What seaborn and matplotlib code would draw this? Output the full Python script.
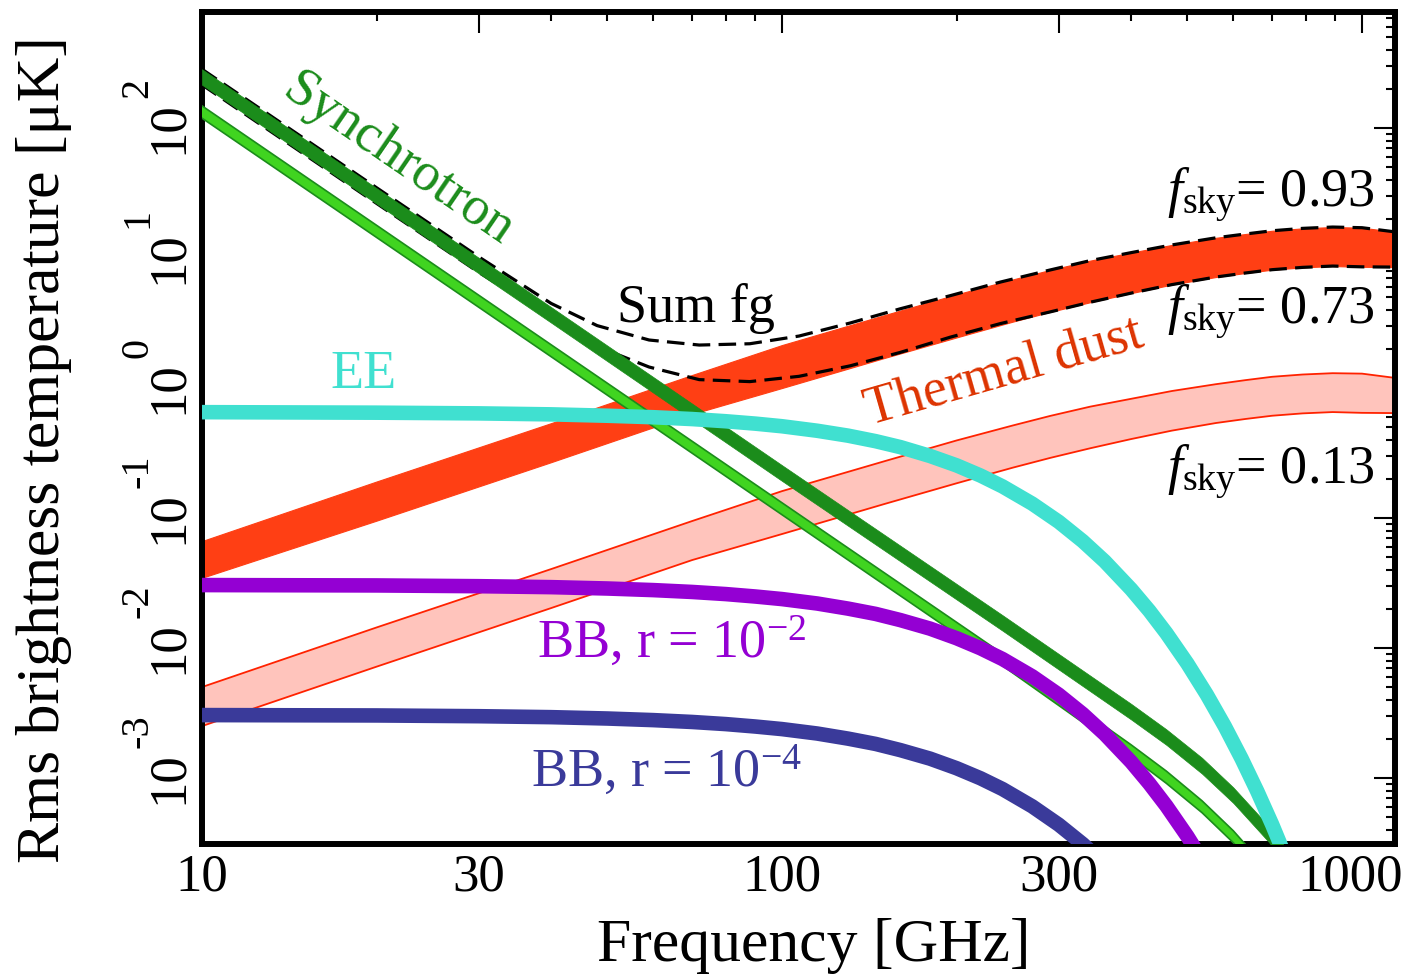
import numpy as np
import pandas as pd
import matplotlib
matplotlib.use("Agg")
import matplotlib.pyplot as plt
import seaborn as sns
from matplotlib.transforms import ScaledTranslation, blended_transform_factory

# ---------------- data (in micro-K) ----------------
sync_freq = [10, 40, 100, 240, 400, 460, 530, 600, 690, 800]
sync_hi_upper = [283, 4.19, 0.255, 0.0179, 0.00372, 0.00237, 0.00143, 0.000847, 0.000428, 0.000187]
sync_hi_lower = [215, 3.18, 0.193, 0.0136, 0.00282, 0.00180, 0.00108, 0.000643, 0.000324, 0.000142]
sync_lo_upper = [148, 2.15, 0.131, 0.00904, 0.00180, 0.00113, 0.000668, 0.000393, 0.000195, 0.0000845]
sync_lo_lower = [119, 1.74, 0.106, 0.00731, 0.00146, 0.000910, 0.000541, 0.000318, 0.000158, 0.0000684]

dust_freq = [10, 20, 40, 70, 100, 150, 200, 250, 290, 340, 400, 470, 560, 630, 700, 790, 890, 1000, 1150]
dust_upper = [0.0665, 0.191, 0.537, 1.26, 2.14, 3.63, 5.25, 6.84, 8.09, 9.55, 11.0, 12.6, 14.3, 15.3, 16.2, 16.9, 17.3, 17.1, 15.8]
dust_lower = [0.0347, 0.0955, 0.269, 0.631, 1.00, 1.70, 2.45, 3.24, 3.85, 4.57, 5.37, 6.24, 7.14, 7.67, 8.13, 8.47, 8.67, 8.55, 8.51]
dust13_upper = [0.00501, 0.0144, 0.0405, 0.0948, 0.161, 0.273, 0.395, 0.515, 0.610, 0.719, 0.826, 0.948, 1.07, 1.15, 1.22, 1.27, 1.30, 1.29, 1.19]
dust13_lower = [0.00251, 0.00719, 0.0203, 0.0475, 0.0753, 0.128, 0.185, 0.244, 0.290, 0.344, 0.405, 0.470, 0.538, 0.578, 0.612, 0.638, 0.653, 0.644, 0.641]

sum_freq = [10, 20, 30, 40, 48, 59, 72, 88, 107, 131, 160, 195, 238, 290, 340, 400, 470, 560, 630, 700, 790, 890, 1000, 1150]
sum_fg_093 = [283, 34.7, 10.2, 4.47, 3.02, 2.34, 2.14, 2.19, 2.51, 3.16, 4.07, 5.13, 6.53, 8.09,
              9.55, 11.0, 12.6, 14.3, 15.3, 16.2, 16.9, 17.3, 17.1, 15.8]
sum_fg_073 = [215, 26.3, 7.76, 3.47, 2.09, 1.45, 1.16, 1.12, 1.23, 1.48, 1.88, 2.46, 3.13, 3.85,
              4.57, 5.37, 6.24, 7.14, 7.67, 8.13, 8.47, 8.67, 8.55, 8.51]

cmb_freq = [10, 20, 30, 40, 50, 60, 70, 80, 90, 100, 115, 130, 145, 160, 180, 200, 220, 240, 270, 300,
            330, 360, 400, 430, 460, 500, 540, 580, 620, 660, 700, 750, 800]
ee = [0.652, 0.646, 0.638, 0.627, 0.612, 0.596, 0.577, 0.555, 0.532, 0.508, 0.469, 0.430, 0.390, 0.351,
      0.300, 0.254, 0.212, 0.175, 0.129, 0.0935, 0.0664, 0.0465, 0.0283, 0.0193, 0.0130, 0.00759,
      0.00438, 0.00250, 0.00141, 0.000789, 0.000439, 0.000209, 0.0000984]
bb_r2 = [0.0305, 0.0303, 0.0299, 0.0294, 0.0287, 0.0279, 0.0270, 0.0260, 0.0249, 0.0238, 0.0220, 0.0201,
         0.0183, 0.0164, 0.0141, 0.0119, 0.00995, 0.00823, 0.00606, 0.00438, 0.00311, 0.00218, 0.00133,
         0.000904, 0.000610, 0.000356, 0.000205, 0.000117, 0.0000661, 0.0000371, 0.0000206, 0.0000098, 0.0000046]
bb_r4 = [0.00305, 0.00303, 0.00299, 0.00294, 0.00287, 0.00279, 0.00270, 0.00260, 0.00249, 0.00238, 0.00220,
         0.00201, 0.00183, 0.00164, 0.00141, 0.00119, 0.000995, 0.000823, 0.000606, 0.000438, 0.000311,
         0.000218, 0.000133, 0.0000904, 0.0000610, 0.0000356, 0.0000205, 0.0000117, 0.00000661,
         0.00000371, 0.00000206, 0.00000098, 0.00000046]

x_major = [10, 30, 100, 300, 1000]
x_major_labels = ["10", "30", "100", "300", "1000"]
x_minor = [20, 40, 50, 60, 70, 80, 90, 200, 400, 500, 600, 700, 800, 900]
y_major = [1e-3, 1e-2, 1e-1, 1e0, 1e1, 1e2]
y_major_exponents = ["-3", "-2", "-1", "0", "1", "2"]

# ---------------- style ----------------
sns.set_theme(style="white")
plt.rcParams["font.family"] = ["Liberation Serif", "DejaVu Serif"]
plt.rcParams["mathtext.fontset"] = "custom"
plt.rcParams["mathtext.rm"] = "Liberation Serif"
plt.rcParams["mathtext.it"] = "Liberation Serif:italic"
plt.rcParams["mathtext.bf"] = "Liberation Serif:bold"
plt.rcParams["text.color"] = "black"
plt.rcParams["axes.labelcolor"] = "black"
plt.rcParams["xtick.color"] = "black"
plt.rcParams["ytick.color"] = "black"

C_DKGREEN = "#1b8c1b"
C_LTGREEN = "#40d420"
C_DUST = "#ff3f14"
C_DUSTLBL = "#dd3300"
C_PINK = "#ffc4bc"
C_PINKEDGE = "#ff2200"
C_EE = "#40e0d0"
C_BB2 = "#9400d3"
C_BB4 = "#3a3a9a"

fig = plt.figure(figsize=(14.11, 9.76), dpi=100)
ax = fig.add_axes([0.14316, 0.13525, 0.84550, 0.85246])
ax.set_xscale("log")
ax.set_yscale("log")

kw = dict(ax=ax, estimator=None, sort=False, legend=False)

# pink dust band (small sky fraction)
ax.fill_between(dust_freq, dust13_lower, dust13_upper, facecolor=C_PINK, edgecolor="none", zorder=1)
sns.lineplot(x=dust_freq, y=dust13_upper, color=C_PINKEDGE, lw=1.3, zorder=1.1, **kw)
sns.lineplot(x=dust_freq, y=dust13_lower, color=C_PINKEDGE, lw=1.3, zorder=1.1, **kw)

# thermal dust band
ax.fill_between(dust_freq, dust_lower, dust_upper, facecolor=C_DUST, edgecolor=C_DUST, lw=0.8, zorder=2)

# sum of foregrounds (dashed)
dash = (0, (5.5, 2.6))
sns.lineplot(x=sum_freq, y=sum_fg_093, color="black", lw=2.3, ls=dash, zorder=3, **kw)
sns.lineplot(x=sum_freq, y=sum_fg_073, color="black", lw=2.3, ls=dash, zorder=3, **kw)

# synchrotron bands
ax.fill_between(sync_freq, sync_hi_lower, sync_hi_upper, facecolor=C_DKGREEN, edgecolor=C_DKGREEN, lw=0.5, zorder=4)
ax.fill_between(sync_freq, sync_lo_lower, sync_lo_upper, facecolor=C_LTGREEN, edgecolor="none", zorder=5)
sns.lineplot(x=sync_freq, y=sync_lo_upper, color=C_DKGREEN, lw=1.2, zorder=5.1, **kw)
sns.lineplot(x=sync_freq, y=sync_lo_lower, color=C_DKGREEN, lw=1.2, zorder=5.1, **kw)

# CMB curves
sns.lineplot(x=cmb_freq, y=ee, color=C_EE, lw=10.5, zorder=6, solid_capstyle="butt", **kw)
sns.lineplot(x=cmb_freq, y=bb_r2, color=C_BB2, lw=10.5, zorder=7, solid_capstyle="butt", **kw)
sns.lineplot(x=cmb_freq, y=bb_r4, color=C_BB4, lw=10.5, zorder=7, solid_capstyle="butt", **kw)

# limits
ax.set_xlim(10, 1140)
ax.set_ylim(3.11e-4, 780)

# ticks
ax.set_xticks(x_major)
ax.set_xticklabels(x_major_labels)
ax.set_xticks(x_minor, minor=True)
ax.set_xticklabels([""] * len(x_minor), minor=True)
y_minor = [m * 10.0 ** k for k in range(-4, 3) for m in range(2, 10)]
y_minor = [v for v in y_minor if 3.11e-4 < v < 780]
ax.set_yticks(y_major)
ax.set_yticklabels([""] * len(y_major))
ax.set_yticks(y_minor, minor=True)
ax.set_yticklabels([""] * len(y_minor), minor=True)

ax.tick_params(which="both", direction="in", top=True, right=True, colors="black")
ax.tick_params(which="major", length=15, width=1.5)
ax.tick_params(which="minor", length=6.5, width=1.5)
ax.tick_params(axis="x", which="major", labelsize=38, pad=7, labelcolor="black")

for sp in ax.spines.values():
    sp.set_linewidth(4.3)
    sp.set_color("black")
    sp.set_visible(True)
ax.grid(False)
ax.set_facecolor("white")

# nudge the last x tick label ("1000") left so it stays inside the figure
xl = ax.get_xticklabels()
xl[-1].set_transform(xl[-1].get_transform() + ScaledTranslation(-0.12, 0, fig.dpi_scale_trans))

# rotated y tick labels: "10" centred on the tick, exponent raised above it
blend = blended_transform_factory(ax.transAxes, ax.transData)
for v, e in zip(y_major, y_major_exponents):
    ax.text(-0.0168, v, "10", transform=blend, rotation=90, rotation_mode="anchor",
            ha="center", va="baseline", fontsize=38, color="black", clip_on=False)
    ax.text(-0.0461, v, e, transform=blend + ScaledTranslation(0, 0.30, fig.dpi_scale_trans),
            rotation=90, rotation_mode="anchor", ha="left", va="baseline", fontsize=29,
            color="black", clip_on=False)

ax.set_xlabel("Frequency [GHz]", fontsize=44.5, color="black")
ax.set_ylabel("Rms brightness temperature [μK]", fontsize=44.5, color="black")
ax.xaxis.set_label_coords(0.513, -0.089)
ax.yaxis.set_label_coords(-0.109, 0.4736)

# annotations
fs = 39
ax.text(21.8, 56.8, "Synchrotron", color=C_DKGREEN, fontsize=fs, rotation=-34.4,
        rotation_mode="anchor", ha="center", va="center")
ax.text(242, 1.30, "Thermal dust", color=C_DUSTLBL, fontsize=fs, rotation=16,
        rotation_mode="anchor", ha="center", va="center")
ax.text(18.96, 1.26, "EE", color=C_EE, fontsize=fs, ha="center", va="center")
ax.text(71.0, 4.12, "Sum fg", color="black", fontsize=fs, ha="center", va="center")
ax.text(64.5, 0.0109, r"BB, r = 10$^{-2}$", color=C_BB2, fontsize=fs, ha="center", va="center")
ax.text(63.3, 0.00111, r"BB, r = 10$^{-4}$", color=C_BB4, fontsize=fs, ha="center", va="center")
ax.text(1052, 30.5, r"$f_{\rm sky}$= 0.93", color="black", fontsize=fs, ha="right", va="center")
ax.text(1052, 3.85, r"$f_{\rm sky}$= 0.73", color="black", fontsize=fs, ha="right", va="center")
ax.text(1052, 0.226, r"$f_{\rm sky}$= 0.13", color="black", fontsize=fs, ha="right", va="center")

fig.savefig("out.png", dpi=100, facecolor="white")
